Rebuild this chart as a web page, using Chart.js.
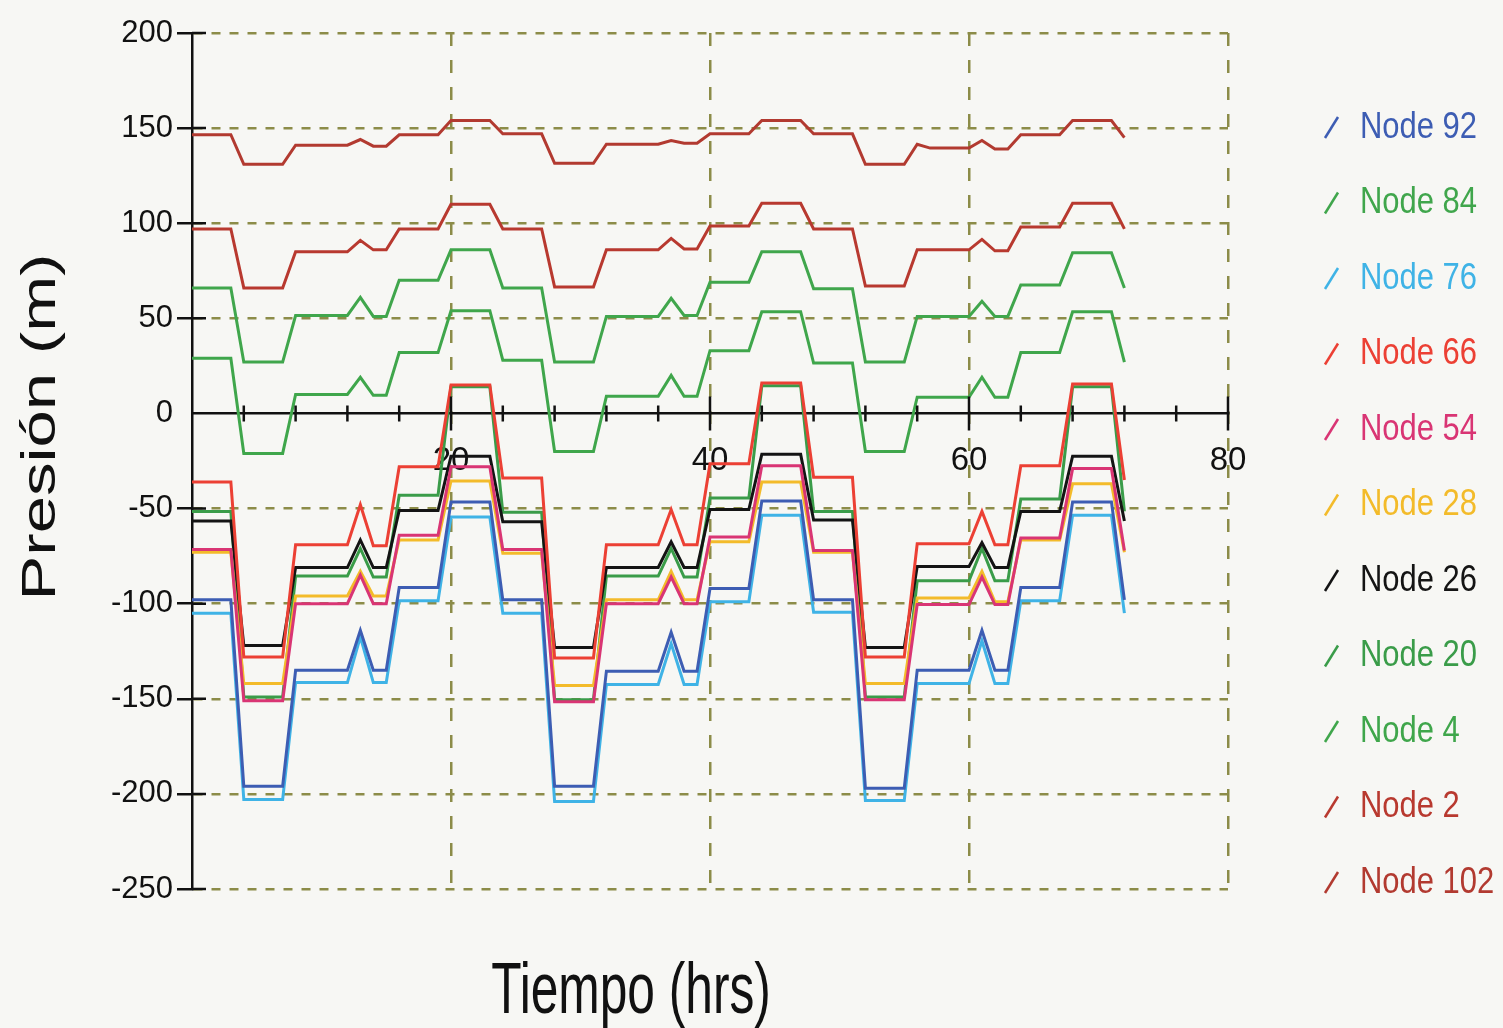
<!DOCTYPE html>
<html lang="es">
<head>
<meta charset="UTF-8">
<title>Presión en nodos</title>
<script src="https://cdn.jsdelivr.net/npm/chart.js@4.4.1/dist/chart.umd.min.js"></script>
<style>
  html, body { margin: 0; padding: 0; background: #f7f7f4; }
  .chart-container { position: relative; width: 1503px; height: 1028px; }
</style>
</head>
<body>
<div class="chart-container"><canvas id="presionChart"></canvas></div>
<script>
// Horas de simulación
const horas = [0,1,2,3,4,5,6,7,8,9,10,11,12,13,14,15,16,17,18,19,20,21,22,23,
  24,25,26,27,28,29,30,31,32,33,34,35,36,37,38,39,40,41,42,43,44,45,46,47,
  48,49,50,51,52,53,54,55,56,57,58,59,60,61,62,63,64,65,66,67,68,69,70,71,72];

// Presión (m) por nodo
const node92 = [
  -98,-98,-98,-98,-196,-196,-196,-196,-135,-135,-135,-135,-135,-114,-135,-135,-91.5,-91.5,-91.5,-91.5,-46.5,-46.5,-46.5,-46.5,
  -98,-98,-98,-98,-196,-196,-196,-196,-135.5,-135.5,-135.5,-135.5,-135.5,-115,-135.5,-135.5,-92,-92,-92,-92,-46,-46,-46,-46,
  -98,-98,-98,-98,-197,-197,-197,-197,-135,-135,-135,-135,-135,-114,-135,-135,-91.5,-91.5,-91.5,-91.5,-46.5,-46.5,-46.5,-46.5,
  -98];
const node84 = [
  66,66,66,66,27,27,27,27,51.5,51.5,51.5,51.5,51.5,61,51,51,70,70,70,70,86,86,86,86,
  66,66,66,66,27,27,27,27,51,51,51,51,51,60.5,51.5,51.5,69,69,69,69,85,85,85,85,
  65.5,65.5,65.5,65.5,27,27,27,27,51,51,51,51,51,59,51,51,67.5,67.5,67.5,67.5,84.5,84.5,84.5,84.5,
  66];
const node76 = [
  -105,-105,-105,-105,-203,-203,-203,-203,-141.5,-141.5,-141.5,-141.5,-141.5,-117.5,-141.5,-141.5,-98.5,-98.5,-98.5,-98.5,-54.5,-54.5,-54.5,-54.5,
  -105,-105,-105,-105,-204,-204,-204,-204,-142.5,-142.5,-142.5,-142.5,-142.5,-121,-142.5,-142.5,-99,-99,-99,-99,-53.5,-53.5,-53.5,-53.5,
  -104.5,-104.5,-104.5,-104.5,-203.5,-203.5,-203.5,-203.5,-142,-142,-142,-142,-142,-119.5,-142,-142,-98.5,-98.5,-98.5,-98.5,-53.5,-53.5,-53.5,-53.5,
  -105];
const node66 = [
  -36,-36,-36,-36,-128,-128,-128,-128,-69,-69,-69,-69,-69,-48,-69.5,-69.5,-28,-28,-28,-28,15,15,15,15,
  -34,-34,-34,-34,-128.5,-128.5,-128.5,-128.5,-69,-69,-69,-69,-69,-50.5,-69,-69,-26.5,-26.5,-26.5,-26.5,16,16,16,16,
  -33.5,-33.5,-33.5,-33.5,-128,-128,-128,-128,-68.5,-68.5,-68.5,-68.5,-68.5,-51.5,-69,-69,-27.5,-27.5,-27.5,-27.5,15.5,15.5,15.5,15.5,
  -35];
const node54 = [
  -71.5,-71.5,-71.5,-71.5,-151,-151,-151,-151,-100,-100,-100,-100,-100,-85,-100,-100,-64,-64,-64,-64,-28,-28,-28,-28,
  -71.5,-71.5,-71.5,-71.5,-151.5,-151.5,-151.5,-151.5,-100,-100,-100,-100,-100,-86,-100,-100,-65,-65,-65,-65,-27.5,-27.5,-27.5,-27.5,
  -72,-72,-72,-72,-150.5,-150.5,-150.5,-150.5,-100.5,-100.5,-100.5,-100.5,-100.5,-86,-100.5,-100.5,-65.5,-65.5,-65.5,-65.5,-29,-29,-29,-29,
  -72];
const node28 = [
  -73,-73,-73,-73,-142,-142,-142,-142,-96,-96,-96,-96,-96,-83,-96,-96,-66.5,-66.5,-66.5,-66.5,-35.5,-35.5,-35.5,-35.5,
  -73.5,-73.5,-73.5,-73.5,-143,-143,-143,-143,-98,-98,-98,-98,-98,-83,-98,-98,-67.5,-67.5,-67.5,-67.5,-36,-36,-36,-36,
  -73,-73,-73,-73,-142,-142,-142,-142,-97,-97,-97,-97,-97,-83,-99,-99,-66.5,-66.5,-66.5,-66.5,-37,-37,-37,-37,
  -73];
const node26 = [
  -56.5,-56.5,-56.5,-56.5,-122,-122,-122,-122,-81,-81,-81,-81,-81,-66.5,-81,-81,-51,-51,-51,-51,-22.5,-22.5,-22.5,-22.5,
  -57,-57,-57,-57,-123,-123,-123,-123,-81,-81,-81,-81,-81,-67.5,-81,-81,-50.5,-50.5,-50.5,-50.5,-21.5,-21.5,-21.5,-21.5,
  -56,-56,-56,-56,-123,-123,-123,-123,-80.5,-80.5,-80.5,-80.5,-80.5,-68,-81,-81,-51.5,-51.5,-51.5,-51.5,-22.5,-22.5,-22.5,-22.5,
  -56.5];
const node20 = [
  -51.5,-51.5,-51.5,-51.5,-149,-149,-149,-149,-85.5,-85.5,-85.5,-85.5,-85.5,-71,-86,-86,-43,-43,-43,-43,14,14,14,14,
  -52,-52,-52,-52,-150.5,-150.5,-150.5,-150.5,-85.5,-85.5,-85.5,-85.5,-85.5,-71,-86,-86,-44.5,-44.5,-44.5,-44.5,14.5,14.5,14.5,14.5,
  -51.5,-51.5,-51.5,-51.5,-149,-149,-149,-149,-88,-88,-88,-88,-88,-71,-88,-88,-45,-45,-45,-45,14,14,14,14,
  -51.5];
const node4 = [
  29,29,29,29,-21,-21,-21,-21,10,10,10,10,10,19,9.5,9.5,32,32,32,32,54,54,54,54,
  28,28,28,28,-20,-20,-20,-20,9,9,9,9,9,20,9,9,33,33,33,33,53.5,53.5,53.5,53.5,
  26.5,26.5,26.5,26.5,-20,-20,-20,-20,8.5,8.5,8.5,8.5,8.5,19,8.5,8.5,32,32,32,32,53.5,53.5,53.5,53.5,
  27];
const node2 = [
  97,97,97,97,66,66,66,66,85,85,85,85,85,91,86,86,97,97,97,97,110,110,110,110,
  97,97,97,97,66.5,66.5,66.5,66.5,86,86,86,86,86,92,86.5,86.5,98.5,98.5,98.5,98.5,110.5,110.5,110.5,110.5,
  97,97,97,97,67,67,67,67,86,86,86,86,86,91.5,85.5,85.5,98,98,98,98,110.5,110.5,110.5,110.5,
  97];
const node102 = [
  146.5,146.5,146.5,146.5,131,131,131,131,141,141,141,141,141,144,140.5,140.5,146.5,146.5,146.5,146.5,154,154,154,154,
  147,147,147,147,131.5,131.5,131.5,131.5,141.5,141.5,141.5,141.5,141.5,143.5,142,142,147,147,147,147,154,154,154,154,
  147,147,147,147,131,131,131,131,141.5,139.5,139.5,139.5,139.5,143.5,139,139,146.5,146.5,146.5,146.5,154,154,154,154,
  145];

const nombres = ['Node 92','Node 84','Node 76','Node 66','Node 54','Node 28','Node 26','Node 20','Node 4','Node 2','Node 102'];
const series  = [node92, node84, node76, node66, node54, node28, node26, node20, node4, node2, node102];
const colores = ['#3d5db3','#40a64c','#3fb3e6','#ec4034','#d93574','#f3bb2a','#141414','#3a9c49','#3fa64b','#b8392f','#b23a30'];

const yTicks = [200,150,100,50,0,-50,-100,-150,-200,-250];
const xTicks = [20,40,60,80];

const rejilla = '#8c8c48';
const transparente = 'rgba(0,0,0,0)';
const fuente = "'Liberation Sans', Arial, sans-serif";

// Marcas de ejes, títulos y leyenda
const extras = {
  id: 'extras',
  afterDatasetsDraw(chart) {
    const {ctx, chartArea, scales: {x, y}} = chart;
    const y0 = y.getPixelForValue(0);
    ctx.save();
    ctx.strokeStyle = '#111';
    ctx.lineWidth = 2.5;
    ctx.beginPath();
    for (let h = 4; h <= 80; h += 4) {
      const px = x.getPixelForValue(h);
      const mayor = xTicks.includes(h);
      ctx.moveTo(px, y0 - (mayor ? 17 : 8));
      ctx.lineTo(px, y0 + (mayor ? 17 : 8));
    }
    yTicks.forEach(v => {
      if (v === 0) return;
      const py = y.getPixelForValue(v);
      ctx.moveTo(chartArea.left, py);
      ctx.lineTo(chartArea.left + 14, py);
    });
    ctx.stroke();
    ctx.restore();
  },
  afterDraw(chart) {
    const {ctx} = chart;
    // Título eje x (tipografía estrecha)
    ctx.save();
    ctx.fillStyle = '#111';
    ctx.font = "72px " + fuente;
    ctx.textAlign = 'center';
    ctx.textBaseline = 'alphabetic';
    ctx.translate(631, 1013);
    ctx.scale(0.69, 1);
    ctx.fillText('Tiempo (hrs)', 0, 0);
    ctx.restore();
    // Título eje y
    ctx.save();
    ctx.fillStyle = '#111';
    ctx.font = "49px " + fuente;
    ctx.textAlign = 'center';
    ctx.textBaseline = 'alphabetic';
    ctx.translate(55, 427);
    ctx.rotate(-Math.PI / 2);
    ctx.scale(1.37, 1);
    ctx.fillText('Presión (m)', 0, 0);
    ctx.restore();
    // Leyenda
    ctx.save();
    ctx.font = "36px " + fuente;
    ctx.textAlign = 'left';
    ctx.textBaseline = 'middle';
    ctx.lineWidth = 2.5;
    chart.data.datasets.forEach((ds, i) => {
      const cy = 127 + i * 75.5;
      ctx.strokeStyle = ds.borderColor;
      ctx.beginPath();
      ctx.moveTo(1325, cy + 11);
      ctx.lineTo(1338, cy - 10);
      ctx.stroke();
      ctx.save();
      ctx.translate(1360, cy + 1);
      ctx.scale(0.86, 1);
      ctx.fillStyle = ds.borderColor;
      ctx.fillText(ds.label, 0, 0);
      ctx.restore();
    });
    ctx.restore();
  }
};

const ctx = document.getElementById('presionChart').getContext('2d');
const chart = new Chart(ctx, {
  type: 'line',
  data: {
    datasets: series.map((s, i) => ({
      label: nombres[i],
      data: s.map((v, j) => ({x: horas[j], y: v})),
      borderColor: colores[i],
      backgroundColor: colores[i],
      borderWidth: 3,
      pointRadius: 0,
      tension: 0,
      fill: false
    }))
  },
  options: {
    responsive: true,
    maintainAspectRatio: false,
    animation: false,
    layout: { padding: { left: 0, right: 275, top: 33, bottom: 139 } },
    plugins: { legend: { display: false }, tooltip: { enabled: false } },
    scales: {
      x: {
        type: 'linear',
        min: 0,
        max: 80,
        position: { y: 0 },
        ticks: {
          stepSize: 20,
          color: '#111',
          padding: 11,
          maxRotation: 0,
          font: { family: fuente, size: 33 },
          callback: v => (v === 0 ? '' : v)
        },
        grid: {
          color: c => (c.tick && c.tick.value === 0 ? transparente : rejilla),
          lineWidth: 2.5,
          tickLength: 17,
          tickColor: transparente,
          tickBorderDash: []
        },
        border: { display: true, color: '#111', width: 2.5, dash: [13, 14] }
      },
      y: {
        min: -250,
        max: 200,
        ticks: {
          stepSize: 50,
          color: '#111',
          padding: 4,
          font: { family: fuente, size: 31 }
        },
        grid: {
          color: c => (c.tick && c.tick.value === 0 ? transparente : rejilla),
          lineWidth: 2.5,
          tickLength: 15,
          tickWidth: 2.5,
          tickColor: c => (c.tick && c.tick.value === 0 ? transparente : '#111'),
          tickBorderDash: []
        },
        border: { display: true, color: '#111', width: 2.5, dash: [9, 9] },
        afterFit: s => { s.width = 192; }
      }
    }
  },
  plugins: [extras]
});
</script>
</body>
</html>
